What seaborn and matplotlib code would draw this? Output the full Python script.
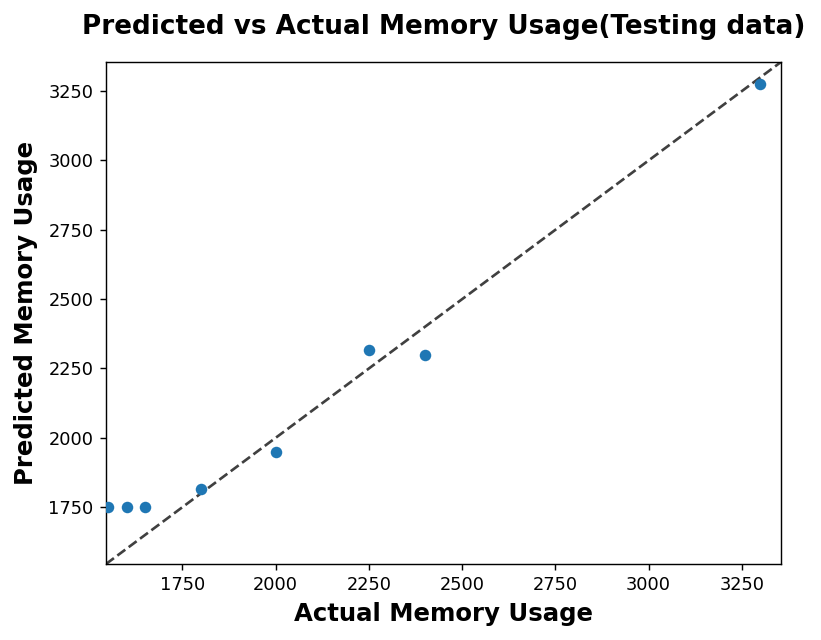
import matplotlib
matplotlib.use("Agg")
import matplotlib.pyplot as plt
import seaborn as sns
import pandas as pd

actual = [1550, 1600, 1650, 1800, 2000, 2250, 2400, 3300]
predicted = [1750, 1750, 1750, 1816, 1950, 2316, 2300, 3274]
lims = [1545, 3355]

df = pd.DataFrame({"Actual": actual, "Predicted": predicted})

fig = plt.figure(figsize=(821 / 128, 640 / 128), dpi=128)
ax = fig.add_axes([106 / 821, 1 - 564 / 640, (781 - 106) / 821, (564 - 62) / 640])

sns.scatterplot(data=df, x="Actual", y="Predicted", ax=ax, s=42,
                color="#1f77b4", linewidth=0, zorder=3)
ax.plot(lims, lims, "k--", alpha=0.75, lw=1.5, zorder=2)
ax.set_xlim(lims)
ax.set_ylim(lims)
ax.set_xticks([1750, 2000, 2250, 2500, 2750, 3000, 3250])
ax.set_yticks([1750, 2000, 2250, 2500, 2750, 3000, 3250])
ax.tick_params(labelsize=10)

ax.set_xlabel("Actual Memory Usage", fontsize=13.7, fontweight="bold")
ax.set_ylabel("Predicted Memory Usage", fontsize=13.7, fontweight="bold", labelpad=6)
ax.set_title("Predicted vs Actual Memory Usage(Testing data)", fontsize=14.8,
             fontweight="bold", pad=15.5)

fig.savefig("out.png", dpi=128)
